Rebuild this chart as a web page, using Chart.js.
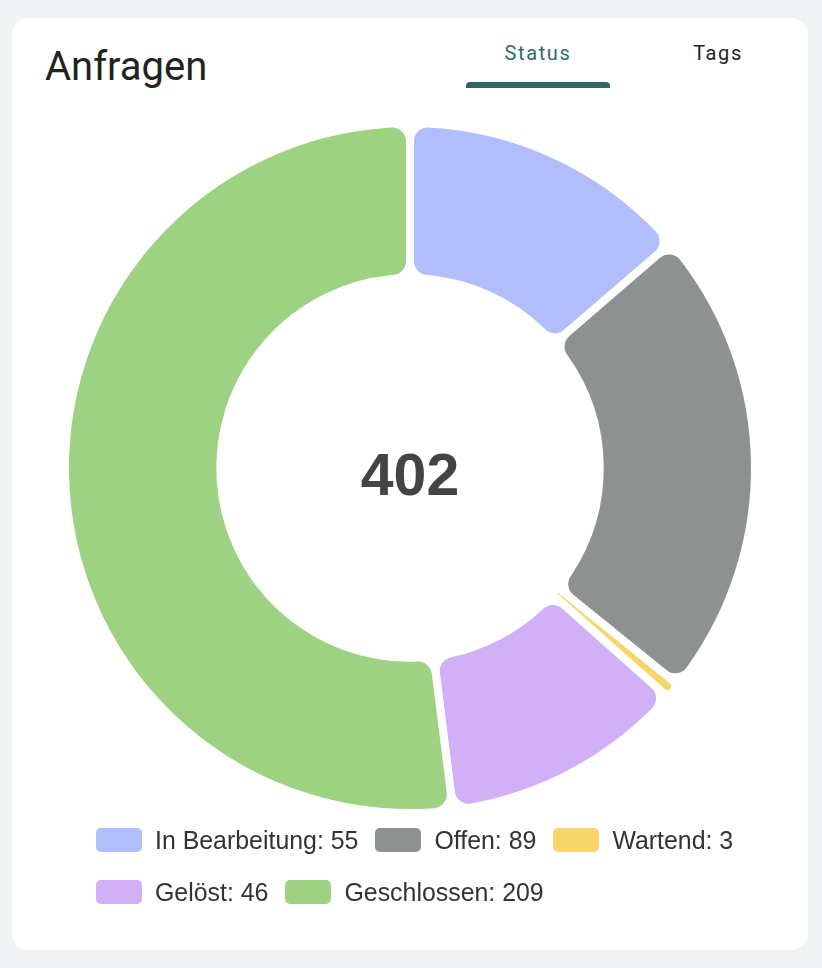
<!DOCTYPE html>
<html>
<head>
<meta charset="utf-8">
<script src="https://cdn.jsdelivr.net/npm/chart.js@4"></script>
<style>
  body { margin: 0; background: #eff3f4; width: 822px; height: 968px; overflow: hidden; }
  .card { position: absolute; left: 12px; top: 18px; width: 796px; height: 932px; background: #fff; border-radius: 16px; }
  .title { position: absolute; left: 33px; top: 29px; font: 400 40px Roboto, sans-serif; color: #222; line-height: 40px; }
  .tab { position: absolute; top: 23px; width: 144px; text-align: center; font: 400 20px Roboto, sans-serif; letter-spacing: 1.6px; line-height: 24px; }
  .tab.active { left: 454px; color: #2f6b69; }
  .tab.other { left: 634px; color: #222; }
  .underline { position: absolute; left: 454px; top: 64px; width: 144px; height: 6px; background: #2c6865; border-radius: 4px 4px 0 0; }
  .chartbox { position: absolute; left: 12px; top: 100px; width: 796px; height: 736px; }
  #legend { position: absolute; left: 96px; top: 828px; width: 690px; }
  #legend ul { list-style: none; margin: 0; padding: 0; display: flex; flex-wrap: wrap; column-gap: 17px; row-gap: 28px; }
  #legend li { display: flex; align-items: center; height: 24px; font: 400 24.9px "Liberation Sans", Arial, sans-serif; color: #333; white-space: nowrap; }
  #legend .box { width: 46px; height: 24px; border-radius: 5px; margin-right: 13px; }
</style>
</head>
<body>
<div class="card">
  <div class="title">Anfragen</div>
  <div class="tab active">Status</div>
  <div class="tab other">Tags</div>
  <div class="underline"></div>
</div>
<div class="chartbox"><canvas id="myChart" width="796" height="736"></canvas></div>
<div id="legend"></div>

<script>
// Anfragen nach Status
var statusLabels = ['In Bearbeitung', 'Offen', 'Wartend', 'Gelöst', 'Geschlossen'];
var statusValues = [55, 89, 3, 46, 209];
var statusColors = ['#b1befb', '#8d9291', '#f7d56a', '#d1b0f7', '#9dd283'];

// Summe in der Mitte
var centerText = {
    id: 'centerText',
    afterDraw: function(chart) {
        var arc = chart.getDatasetMeta(0).data[0];
        var total = chart.data.datasets[0].data.reduce(function(a, b) { return a + b; }, 0);
        var ctx = chart.ctx;
        ctx.save();
        ctx.font = 'bold 59px "Liberation Sans", Arial, sans-serif';
        ctx.fillStyle = '#444';
        ctx.textAlign = 'center';
        ctx.textBaseline = 'alphabetic';
        ctx.fillText(String(total), arc.x, arc.y + 27);
        ctx.restore();
    }
};

// Legende als HTML (zwei Zeilen, linksbündig)
var htmlLegend = {
    id: 'htmlLegend',
    afterUpdate: function(chart) {
        var box = document.getElementById('legend');
        var ul = document.createElement('ul');
        var ds = chart.data.datasets[0];
        chart.data.labels.forEach(function(label, i) {
            var li = document.createElement('li');
            var sw = document.createElement('span');
            sw.className = 'box';
            sw.style.background = ds.backgroundColor[i];
            var txt = document.createElement('span');
            txt.textContent = label + ': ' + ds.data[i];
            li.appendChild(sw);
            li.appendChild(txt);
            ul.appendChild(li);
        });
        box.innerHTML = '';
        box.appendChild(ul);
    }
};

var ctx = document.getElementById('myChart').getContext('2d');
var statusChart = new Chart(ctx, {
    type: 'doughnut',
    data: {
        labels: statusLabels,
        datasets: [{
            data: statusValues,
            backgroundColor: statusColors,
            borderColor: '#ffffff',
            borderWidth: 8,
            borderRadius: 18,
            radius: 345,
            cutout: '55%'
        }]
    },
    options: {
        responsive: false,
        animation: false,
        plugins: {
            legend: { display: false },
            tooltip: { enabled: false }
        }
    },
    plugins: [centerText, htmlLegend]
});
</script>
</body>
</html>
